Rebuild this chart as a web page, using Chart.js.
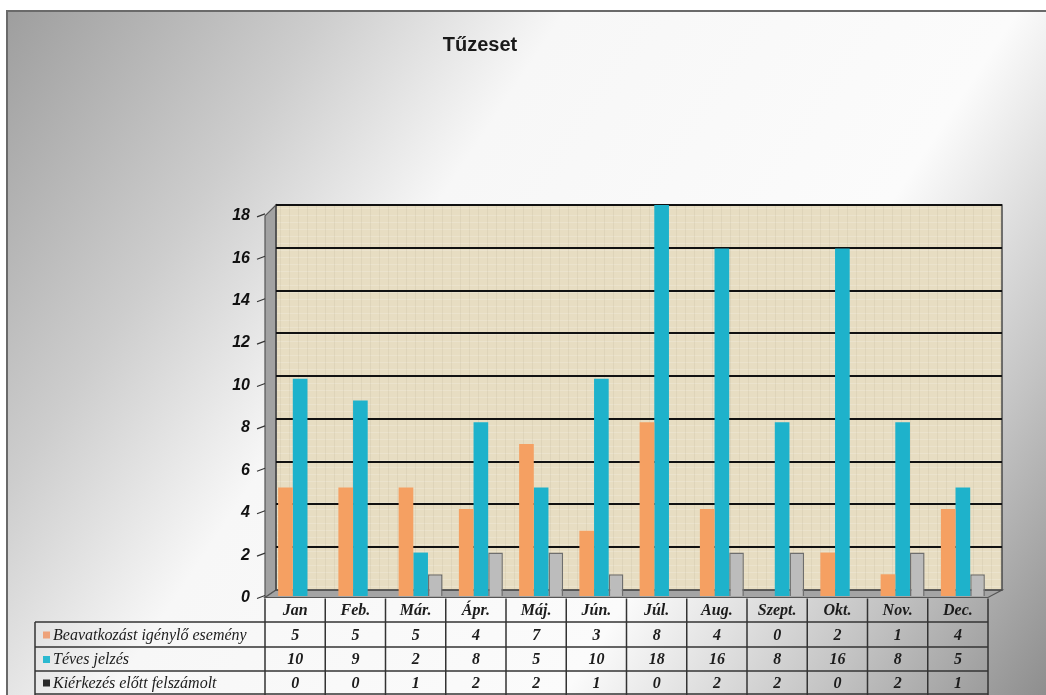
<!DOCTYPE html>
<html>
<head>
<meta charset="utf-8">
<title>Tűzeset</title>
<script src="https://cdn.jsdelivr.net/npm/chart.js@4.4.1/dist/chart.umd.min.js"></script>
<style>
  html, body { margin: 0; padding: 0; background: #fff; }
  canvas { display: block; }
</style>
</head>
<body>
<canvas id="fireChart" width="1046" height="695"></canvas>
<script>
// --- data ---
const chartTitle = 'Tűzeset';
const months = ['Jan', 'Feb.', 'Már.', 'Ápr.', 'Máj.', 'Jún.', 'Júl.', 'Aug.', 'Szept.', 'Okt.', 'Nov.', 'Dec.'];
const beavatkozas = [5, 5, 5, 4, 7, 3, 8, 4, 0, 2, 1, 4];
const tevesJelzes = [10, 9, 2, 8, 5, 10, 18, 16, 8, 16, 8, 5];
const kierkezesElott = [0, 0, 1, 2, 2, 1, 0, 2, 2, 0, 2, 1];
const seriesNames = ['Beavatkozást igénylő esemény', 'Téves jelzés', 'Kiérkezés előtt felszámolt'];
const seriesColors = ['#f5a062', '#1eb2cb', '#bcbcbc'];
const legendKeys = ['#eea27a', '#2bb9d0', '#2a2a2a'];
const yMax = 18;
const yStep = 2;

// draws the background, 3D walls, gridlines, y labels and the data table
const sceneBits = {
    id: 'sceneBits',
    beforeDraw(chart) {
        const ctx = chart.ctx;
        const ca = chart.chartArea;
        const W = chart.width, H = chart.height;
        const yScale = chart.scales.y;
        const xScale = chart.scales.x;

        ctx.save();
        ctx.fillStyle = '#fff';
        ctx.fillRect(0, 0, W, H);

        // page background gradient
        const g = ctx.createLinearGradient(0, 0, W, H);
        g.addColorStop(0, '#9c9c9c');
        g.addColorStop(0.22, '#cdcdcd');
        g.addColorStop(0.38, '#f7f7f7');
        g.addColorStop(0.68, '#fbfbfb');
        g.addColorStop(0.85, '#c4c4c4');
        g.addColorStop(1, '#8e8e8e');
        ctx.fillStyle = g;
        ctx.fillRect(7, 11, W - 7, H - 11);
        ctx.strokeStyle = '#6a6a6a';
        ctx.lineWidth = 2;
        ctx.beginPath();
        ctx.moveTo(7, H);
        ctx.lineTo(7, 11);
        ctx.lineTo(W, 11);
        ctx.stroke();

        // title
        ctx.fillStyle = '#1a1a1a';
        ctx.font = 'bold 20px "Liberation Sans", Arial, sans-serif';
        ctx.textAlign = 'center';
        ctx.textBaseline = 'middle';
        ctx.fillText(chartTitle, 480, 45);

        // 3D geometry: back wall shifted right/up from the bar plane
        const backL = ca.left + 6, backR = ca.right + 9;
        const backTop = ca.top, backBottom = ca.bottom - 6;
        const frontL = ca.left - 5, frontR = ca.right - 5;
        const backY = v => {
            const yp = yScale.getPixelForValue(v);
            return backTop + (yp - ca.top) * (backBottom - backTop) / (ca.bottom - ca.top);
        };
        const frontY = v => {
            const yp = yScale.getPixelForValue(v);
            return yp + 1.5 + 0.024 * (ca.bottom - yp);
        };

        // back wall
        ctx.fillStyle = '#e7ddc2';
        ctx.fillRect(backL, backTop, backR - backL, backBottom - backTop);
        // faint woven texture
        ctx.lineWidth = 1;
        ctx.strokeStyle = 'rgba(255,255,255,0.18)';
        for (let y = backTop + 3; y < backBottom; y += 7) {
            ctx.beginPath();
            ctx.moveTo(backL, y + 0.5);
            ctx.lineTo(backR, y + 0.5);
            ctx.stroke();
        }
        ctx.strokeStyle = 'rgba(160,150,120,0.12)';
        for (let x = backL + 4; x < backR; x += 9) {
            ctx.beginPath();
            ctx.moveTo(x + 0.5, backTop);
            ctx.lineTo(x + 0.5, backBottom);
            ctx.stroke();
        }

        // side wall
        ctx.fillStyle = '#a2a2a2';
        ctx.beginPath();
        ctx.moveTo(frontL, frontY(yMax));
        ctx.lineTo(backL, backTop);
        ctx.lineTo(backL, backBottom);
        ctx.lineTo(frontL, frontY(0));
        ctx.closePath();
        ctx.fill();
        ctx.strokeStyle = '#555';
        ctx.lineWidth = 1.2;
        ctx.stroke();

        // floor
        ctx.fillStyle = '#a4a4a4';
        ctx.beginPath();
        ctx.moveTo(frontL, frontY(0));
        ctx.lineTo(backL, backBottom);
        ctx.lineTo(backR, backBottom);
        ctx.lineTo(frontR, frontY(0));
        ctx.closePath();
        ctx.fill();
        ctx.stroke();

        // back wall outline
        ctx.strokeStyle = '#4a4a4a';
        ctx.lineWidth = 1.5;
        ctx.strokeRect(backL, backTop, backR - backL, backBottom - backTop);

        // gridlines on back wall
        ctx.strokeStyle = '#111';
        ctx.lineWidth = 2;
        yScale.ticks.forEach(t => {
            if (t.value === 0) return;
            const y = Math.round(backY(t.value));
            ctx.beginPath();
            ctx.moveTo(backL, y);
            ctx.lineTo(backR, y);
            ctx.stroke();
        });

        // y tick marks and labels on front edge
        ctx.font = 'italic bold 16px "Liberation Sans", Arial, sans-serif';
        ctx.textAlign = 'right';
        ctx.fillStyle = '#111';
        ctx.strokeStyle = '#333';
        ctx.lineWidth = 1.2;
        yScale.ticks.forEach(t => {
            const y = frontY(t.value);
            ctx.beginPath();
            ctx.moveTo(frontL - 8, y + 1);
            ctx.lineTo(frontL, y - 2);
            ctx.stroke();
            ctx.fillText(String(t.value), frontL - 15, y);
        });

        // data table
        const cw = (ca.right - ca.left) / months.length;
        const rowLines = [frontY(0) + 1, 622, 647, 671, 694];
        const labelL = 35;
        const tableR = frontL + cw * months.length;
        ctx.strokeStyle = '#333';
        ctx.lineWidth = 1.5;
        for (let r = 1; r < rowLines.length; r++) {
            ctx.beginPath();
            ctx.moveTo(labelL, rowLines[r]);
            ctx.lineTo(tableR, rowLines[r]);
            ctx.stroke();
        }
        ctx.beginPath();
        ctx.moveTo(labelL, rowLines[1]);
        ctx.lineTo(labelL, H);
        ctx.stroke();
        for (let i = 0; i <= months.length; i++) {
            const x = frontL + i * cw;
            ctx.beginPath();
            ctx.moveTo(x, rowLines[0]);
            ctx.lineTo(x, H);
            ctx.stroke();
        }

        const serif = '"Liberation Serif", "Times New Roman", serif';
        ctx.fillStyle = '#1c1c1c';
        ctx.textAlign = 'center';
        ctx.textBaseline = 'middle';
        ctx.font = 'italic bold 16px ' + serif;
        months.forEach((m, i) => {
            const xc = xScale.getPixelForValue(i) - 5;
            ctx.fillText(m, xc, (rowLines[0] + rowLines[1]) / 2 + 1);
        });
        const allSeries = [beavatkozas, tevesJelzes, kierkezesElott];
        allSeries.forEach((vals, r) => {
            const yc = (rowLines[r + 1] + rowLines[r + 2]) / 2 + 1;
            vals.forEach((v, i) => {
                const xc = xScale.getPixelForValue(i) - 5;
                ctx.fillText(String(v), xc, yc);
            });
        });

        // row labels with colour keys, clipped to the label column
        ctx.save();
        ctx.beginPath();
        ctx.rect(labelL, rowLines[1], frontL - labelL - 2, H - rowLines[1]);
        ctx.clip();
        ctx.textAlign = 'left';
        ctx.font = 'italic 16px ' + serif;
        seriesNames.forEach((name, r) => {
            const yc = (rowLines[r + 1] + rowLines[r + 2]) / 2 + 1;
            ctx.fillStyle = legendKeys[r];
            ctx.fillRect(43, yc - 4, 7, 7);
            ctx.fillStyle = '#1c1c1c';
            ctx.fillText(name, 53, yc);
        });
        ctx.restore();

        ctx.restore();
    }
};

const ctx = document.getElementById('fireChart').getContext('2d');
new Chart(ctx, {
    type: 'bar',
    data: {
        labels: months,
        datasets: [
            { label: seriesNames[0], data: beavatkozas, backgroundColor: seriesColors[0], borderColor: '#d98a50', borderWidth: 0 },
            { label: seriesNames[1], data: tevesJelzes, backgroundColor: seriesColors[1], borderWidth: 0 },
            { label: seriesNames[2], data: kierkezesElott, backgroundColor: seriesColors[2], borderColor: '#6e6e6e', borderWidth: 1.5 }
        ]
    },
    options: {
        responsive: false,
        animation: false,
        devicePixelRatio: 1,
        layout: { padding: { left: 270, right: 53, top: 205, bottom: 99 } },
        datasets: { bar: { categoryPercentage: 0.73, barPercentage: 1.0 } },
        scales: {
            x: { display: false },
            y: { display: false, min: 0, max: yMax, ticks: { stepSize: yStep } }
        },
        plugins: {
            legend: { display: false },
            title: { display: false },
            tooltip: { enabled: false }
        }
    },
    plugins: [sceneBits]
});
</script>
</body>
</html>
